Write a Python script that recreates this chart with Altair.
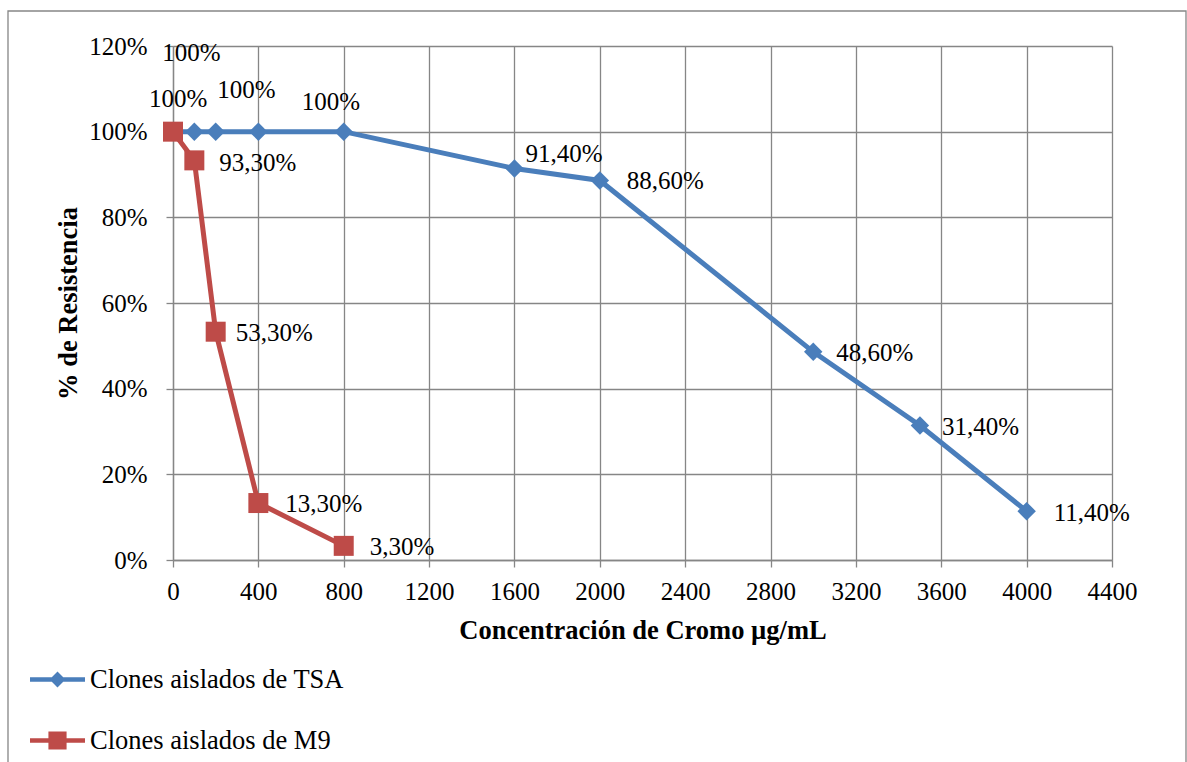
import altair as alt
import pandas as pd

# Chromium resistance of isolated clones
tsa_conc = [0, 100, 200, 400, 800, 1600, 2000, 3000, 3500, 4000]
tsa_pct = [100, 100, 100, 100, 100, 91.4, 88.6, 48.6, 31.4, 11.4]
m9_conc = [0, 100, 200, 400, 800]
m9_pct = [100, 93.3, 53.3, 13.3, 3.3]

series_names = ["Clones aislados de TSA", "Clones aislados de M9"]
x_ticks = list(range(0, 4401, 400))
y_ticks = [0, 0.2, 0.4, 0.6, 0.8, 1.0, 1.2]

# label nudges (pixels) for each data label, left-aligned text;
# None where the label would sit exactly on top of another one
tsa_dx = [None, -32, None, -41, -42, 11, 27, 23, 22, 27]
tsa_dy = [None, -79, None, -42, -30, -15, 1, 1, 1, 2]
m9_dx = [-24, 25, 20, 27, 26]
m9_dy = [-33, 3, 1, 1, 1]

BLUE = "#4A7EBB"
RED = "#BE4B48"
GREY = "#868686"
FONT = "Liberation Serif"


def pct_label(v):
    if float(v).is_integer():
        return f"{int(v)}%"
    return f"{v:.2f}".replace(".", ",") + "%"


rows = []
for name, xs, ys in [(series_names[0], tsa_conc, tsa_pct), (series_names[1], m9_conc, m9_pct)]:
    for i, (x, y) in enumerate(zip(xs, ys)):
        rows.append({"serie": name, "conc": x, "res": y / 100, "label": pct_label(y),
                     "key": f"{name}-{i}"})
df = pd.DataFrame(rows)

x_enc = alt.X("conc:Q", scale=alt.Scale(domain=[0, 4400], nice=False),
              axis=alt.Axis(values=x_ticks, format="d", labelFlush=False,
                            title="Concentración de Cromo µg/mL",
                            labelBaseline="middle", labelPadding=24,
                            titleX=469.5, titleY=70, titleAlign="center",
                            titleBaseline="middle"))
y_enc = alt.Y("res:Q", scale=alt.Scale(domain=[0, 1.2], nice=False),
              axis=alt.Axis(values=y_ticks, format=".0%", title="% de Resistencia",
                            labelFlush=False, labelPadding=19, titleX=-105, titleY=257,
                            titleAlign="center", titleBaseline="middle"))

base = alt.Chart(df)

frame = alt.Chart(alt.Data(values=[{"f": 1}])).mark_rect(
    fillOpacity=0, stroke=GREY, strokeWidth=1.3
).encode(x=alt.value(-165), x2=alt.value(1013), y=alt.value(-35), y2=alt.value(900))

layers = [frame]
for name, color, shape, size in [(series_names[0], BLUE, "diamond", 340),
                                 (series_names[1], RED, "square", 400)]:
    sub = base.transform_filter(alt.datum.serie == name)
    layers.append(sub.mark_line(color=color, strokeWidth=5).encode(x=x_enc, y=y_enc))
    layers.append(sub.mark_point(color=color, filled=True, opacity=1, shape=shape,
                                 size=size).encode(x=x_enc, y=y_enc))

for name, dxs, dys in [(series_names[0], tsa_dx, tsa_dy), (series_names[1], m9_dx, m9_dy)]:
    for i, (dx, dy) in enumerate(zip(dxs, dys)):
        if dx is None:
            continue
        layers.append(
            base.transform_filter(alt.datum.key == f"{name}-{i}")
            .mark_text(align="left", baseline="middle", dx=dx, dy=dy, font=FONT,
                       fontSize=25, color="black")
            .encode(x=x_enc, y=y_enc, text="label:N")
        )

# legend entries: line segment with the series marker in the middle
blue_sym = "M-1,-0.08H1V0.08H-1Z M0,-0.29L0.29,0L0,0.29L-0.29,0Z"
red_sym = "M-1,-0.08H1V0.08H-1Z M-0.33,-0.33H0.33V0.33H-0.33Z"
leg = alt.Legend(title=None, orient="none", legendX=-143, legendY=606,
                 direction="vertical", labelFont=FONT, labelFontSize=26.5,
                 labelColor="black", labelOffset=5, rowPadding=20, padding=0,
                 symbolSize=3025, symbolStrokeWidth=0, symbolOpacity=1, labelLimit=600)
legend_layer = base.transform_filter("false").mark_point(
    filled=True, size=3025, opacity=1
).encode(
    x=x_enc, y=y_enc,
    fill=alt.Fill("serie:N", scale=alt.Scale(domain=series_names, range=[BLUE, RED]),
                  legend=leg),
    shape=alt.Shape("serie:N", scale=alt.Scale(domain=series_names,
                                               range=[blue_sym, red_sym]),
                    legend=leg),
)
layers.append(legend_layer)

chart = alt.layer(*layers).properties(
    width=939, height=514,
    padding={"left": 173, "top": 46, "right": 75, "bottom": 202},
    autosize=alt.AutoSizeParams(type="none"),
    background="white",
).configure_view(stroke="transparent").configure_axis(
    domainColor=GREY, gridColor=GREY, tickColor=GREY, gridWidth=1.3, domainWidth=1.3,
    tickWidth=1.3, tickSize=7, labelFont=FONT, labelFontSize=25, labelColor="black",
    titleFont=FONT, titleFontSize=26.5, titleFontWeight="bold", titleColor="black",
    grid=True, gridOpacity=1,
).configure_legend(labelFont=FONT, labelFontSize=26.5, labelColor="black")

chart.save("out.html", embed_options={"renderer": "svg", "actions": False})
